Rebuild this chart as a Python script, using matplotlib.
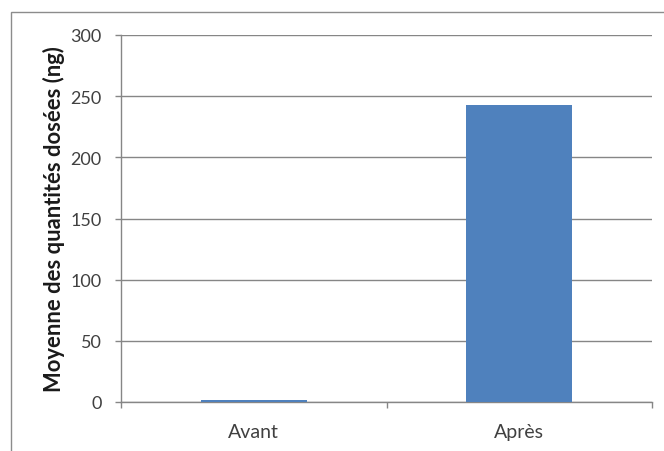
import matplotlib
matplotlib.use('Agg')
import matplotlib.pyplot as plt
from matplotlib.patches import Rectangle

categories = ['Avant', 'Après']
values = [1.5, 243]
yticks = [0, 50, 100, 150, 200, 250, 300]

plt.rcParams['font.family'] = ['Lato', 'DejaVu Sans']

fig = plt.figure(figsize=(6.64, 4.52), dpi=100)
ax = fig.add_axes([121/664, 1 - 403/452, (652 - 121)/664, (403 - 36)/452])

# chart frame (only left and top edges visible in the image)
fig.patches.append(Rectangle((11/664, -0.1), 1.2, 1 - 13/452 + 0.1,
                             transform=fig.transFigure, fill=False,
                             edgecolor='#8c8c8c', linewidth=1))

x = range(len(categories))
ax.bar(x, values, width=0.4, color='#4f81bd', zorder=3)

ax.set_xlim(-0.5, 1.5)
ax.set_ylim(0, 300)
ax.set_yticks(yticks)
ax.set_xticks(list(x))
ax.set_xticklabels(categories)
ax.set_xticks([-0.5, 0.5, 1.5], minor=True)

ax.grid(axis='y', color='#868686', linewidth=1, zorder=0)
for s in ['top', 'right']:
    ax.spines[s].set_visible(False)
for s in ['left', 'bottom']:
    ax.spines[s].set_color('#868686')
    ax.spines[s].set_linewidth(1)

ax.tick_params(axis='y', length=4, width=1, color='#868686', pad=10,
               labelsize=13, labelcolor='#404040')
ax.tick_params(axis='x', which='major', length=0, pad=15,
               labelsize=14, labelcolor='#404040')
ax.tick_params(axis='x', which='minor', length=4, width=1, color='#868686')

ax.set_ylabel('Moyenne des quantités dosées (ng)', fontsize=15.8,
              fontweight='bold', color='#1a1a1a', labelpad=4)

fig.savefig('out.png', dpi=100)
